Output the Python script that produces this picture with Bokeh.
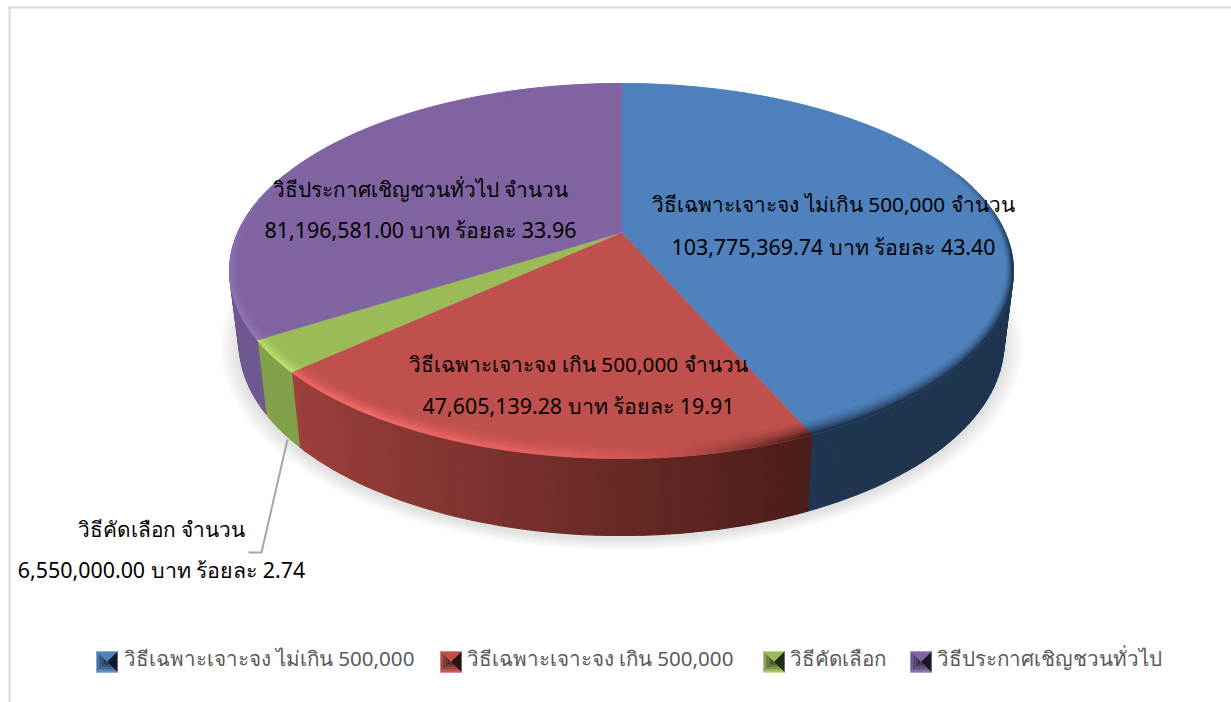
import numpy as np
from bokeh.plotting import figure
from bokeh.core.properties import value
from bokeh.embed import file_html
from bokeh.resources import INLINE

# ---- data ----
categories = ["วิธีเฉพาะเจาะจง ไม่เกิน 500,000", "วิธีเฉพาะเจาะจง เกิน 500,000", "วิธีคัดเลือก", "วิธีประกาศเชิญชวนทั่วไป"]
amounts = [103775369.74, 47605139.28, 6550000.00, 81196581.00]
percents = [43.40, 19.91, 2.74, 33.96]

# ---- styles / layout ----
top_colors = ["#4F81BD", "#C0504D", "#9BBB59", "#8064A2"]
side_left = ["#1F3550", "#9E403D", "#82A04A", "#6E5890"]
side_right = ["#1F3550", "#4A1D1A", "#7A9644", "#64507F"]
label_pos = [(833, 203, 246), (578, 363, 405), (161, 528, 569), (420, 188, 229)]
legend_marker_x = [96, 440, 763, 910]
legend_text_x = [123, 466, 789, 936]

CX, CY, R, H, K = 621.0, 232.0, 383.6, 179.6, 0.2053
BX, BCY, BH = 0.976, 302.5, 184.8


def top_pt(theta, r=1.0):
    u, v = r * np.sin(theta), r * np.cos(theta)
    w = 1 + K * v
    return CX + R * u / w, CY - H * v / w


def bot_pt(theta, grow=0.0):
    u, v = np.sin(theta), np.cos(theta)
    w = 1 + K * v
    return CX + (BX * R + grow) * u / w, BCY - (BH + grow / 2) * v / w


def rgb(c):
    return np.array([int(c[i:i + 2], 16) for i in (1, 3, 5)], float)


def mix(a, b, t):
    return a + (b - a) * t


def hexc(a):
    return "#%02x%02x%02x" % tuple(int(round(x)) for x in np.clip(a, 0, 255))


p = figure(width=1231, height=702, x_range=(0, 1231), y_range=(702, 0),
           output_backend="svg", toolbar_location=None, min_border=0,
           x_axis_type="linear", outline_line_color=None)
p.axis.visible = False
p.grid.visible = False
p.background_fill_color = "white"

# chart frame
p.line([9, 9], [702, 7], line_color="#D9D9D9", line_width=2)
p.line([8, 1231], [7, 7], line_color="#D9D9D9", line_width=2)

# soft shadow below the pie
th = np.linspace(0, 2 * np.pi, 241)
for g in range(1, 11):
    sx, sy = bot_pt(th, grow=g * 1.9)
    p.patch(sx, sy + 3, fill_color="black", fill_alpha=0.011, line_color=None)

total = sum(amounts)
edges = np.concatenate([[0], np.cumsum(amounts)]) / total * 2 * np.pi

side_xs, side_ys, side_cols = [], [], []
rim_xs, rim_ys, rim_cols = [], [], []
rings = np.array([0.945, 0.958, 0.968, 0.977, 0.985, 0.992, 1.0])
slices = []
for i in range(len(amounts)):
    a0, a1 = edges[i], edges[i + 1]
    n = max(3, int(np.ceil((a1 - a0) / np.radians(1.5))))
    angs = np.linspace(a0, a1, n + 1)
    slices.append(angs)
    top = rgb(top_colors[i])
    sl, sr = rgb(side_left[i]), rgb(side_right[i])
    for j in range(n):
        t0, t1 = angs[j], angs[j + 1]
        tm = (t0 + t1) / 2
        u, v = np.sin(tm), np.cos(tm)
        side_col = mix(sl, sr, np.clip((u + 0.75) / 1.15, 0, 1))
        # side wall strip
        if v < 0.35:
            x0, y0 = top_pt(t0)
            x1, y1 = top_pt(t1)
            x2, y2 = bot_pt(t1)
            x3, y3 = bot_pt(t0)
            side_xs.append([x0, x1, x2, x3])
            side_ys.append([y0, y1, y2, y3])
            side_cols.append(hexc(side_col))
        # bevel colour at the rim: lit from the left, dark to the right
        lit = np.interp(u, [-1.0, -0.6, -0.1, 0.12, 0.4, 1.0], [0.35, 1.0, 0.6, 0.0, -1.0, -1.0])
        fade = np.clip((0.45 - v) / 0.6, 0, 1)
        if lit >= 0:
            edge = top * (1 + 0.22 * lit) + 8 * lit
        else:
            edge = mix(top, side_col, -lit)
        edge = mix(top, edge, fade)
        band0 = 0.3 + 0.7 * np.cos(t0) ** 2
        band1 = 0.3 + 0.7 * np.cos(t1) ** 2
        for k in range(len(rings) - 1):
            s = (k + 1) / (len(rings) - 1)
            c = mix(top, edge, s ** 1.3)
            xa, ya = top_pt(t0, 1 - (1 - rings[k]) * band0)
            xb, yb = top_pt(t1, 1 - (1 - rings[k]) * band1)
            xc, yc = top_pt(t1, 1 - (1 - rings[k + 1]) * band1)
            xd, yd = top_pt(t0, 1 - (1 - rings[k + 1]) * band0)
            rim_xs.append([xa, xb, xc, xd])
            rim_ys.append([ya, yb, yc, yd])
            rim_cols.append(hexc(c))

p.patches(side_xs, side_ys, fill_color=side_cols, line_color=side_cols, line_width=1.1)

# top faces
for i, angs in enumerate(slices):
    x, y = top_pt(angs, 1.0)
    p.patch(np.r_[CX, x], np.r_[CY, y], fill_color=top_colors[i], line_color=top_colors[i], line_width=0.6)
p.patches(rim_xs, rim_ys, fill_color=rim_cols, line_color=rim_cols, line_width=0.8)

# leader line for the small slice
p.line([287, 261, 248], [439, 552, 552], line_color="#A6A6A6", line_width=2)

# data labels
FONT = value("Noto Sans")
for i, (lx, y1, y2) in enumerate(label_pos):
    l1 = categories[i] + " จำนวน"
    l2 = f"{amounts[i]:,.2f} บาท ร้อยละ {percents[i]:.2f}"
    p.text([lx], [y1], text=[l1], text_font=FONT, text_font_size="20.8px",
           text_color="#000000", text_align="center", text_baseline="alphabetic")
    p.text([lx], [y2], text=[l2], text_font=FONT, text_font_size="21.4px",
           text_color="#000000", text_align="center", text_baseline="alphabetic")

# legend: small bevelled squares
MS = 21
STEPS = 6
for i, cat in enumerate(categories):
    x0, y0 = legend_marker_x[i], 651
    x1, y1 = x0 + MS, y0 + MS
    xm, ym = x0 + MS / 2, y0 + MS / 2
    base = rgb(top_colors[i])
    dark = mix(base, np.array([0, 0, 0.0]), 0.78)
    xs = [[x0, x1, xm], [x1, x1, xm]]
    ys = [[y0, y0, ym], [y0, y1, ym]]
    cols = [hexc(base), hexc(dark)]
    for s in range(STEPS):
        a, b = s / STEPS, (s + 1) / STEPS
        # left face, bright at the outer edge and dark at the apex
        xs.append([x0 + a * MS / 2, x0 + b * MS / 2, x0 + b * MS / 2, x0 + a * MS / 2])
        ys.append([y0 + a * MS / 2, y0 + b * MS / 2, y1 - b * MS / 2, y1 - a * MS / 2])
        cols.append(hexc(mix(mix(base, dark, 0.15), dark, a)))
        # bottom face, same idea
        xs.append([x0 + a * MS / 2, x1 - a * MS / 2, x1 - b * MS / 2, x0 + b * MS / 2])
        ys.append([y1 - a * MS / 2, y1 - a * MS / 2, y1 - b * MS / 2, y1 - b * MS / 2])
        cols.append(hexc(mix(base * 1.1, dark, a)))
    p.patches(xs, ys, fill_color=cols, line_color=cols, line_width=0.3)
    p.text([legend_text_x[i]], [657], text=[cat], text_font=FONT, text_font_size="20.6px",
           text_color="#595959", text_align="left", text_baseline="alphabetic")

open("out.html", "w").write(file_html(p, INLINE))
